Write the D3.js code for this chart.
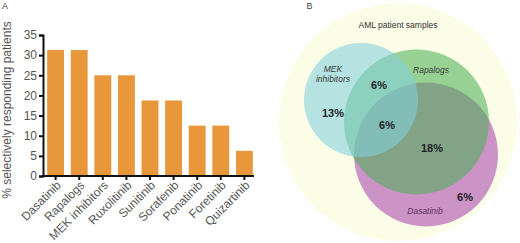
<!DOCTYPE html>
<html>
<head>
<meta charset="utf-8">
<script src="https://cdn.jsdelivr.net/npm/d3@7"></script>
<style>
  body { margin: 0; background: #fff; }
  svg { display: block; font-family: "Liberation Sans", Arial, sans-serif; }
  .axis path, .axis line { stroke: #111; stroke-width: 2px; }
  .axis text { fill: #555; font-size: 12px; }
</style>
</head>
<body>
<div id="chart"></div>
<script>
// panel A data
const drugs = ["Dasatinib", "Rapalogs", "MEK inhibitors", "Ruxolitinib", "Sunitinib",
               "Sorafenib", "Ponatinib", "Foretinib", "Quizartinib"];
const responding = [31.25, 31.25, 25, 25, 18.75, 18.75, 12.5, 12.5, 6.25];
const yTicks = [0, 5, 10, 15, 20, 25, 30, 35];

// panel B data
const vennSets = ["MEK inhibitors", "Rapalogs", "Dasatinib"];
const vennRegions = ["MEK only", "MEK + Rapalogs", "all three", "Rapalogs + Dasatinib", "Dasatinib only"];
const vennPercents = ["13%", "6%", "6%", "18%", "6%"];

const width = 520, height = 243;

const svg = d3.select("#chart").append("svg")
    .attr("width", width)
    .attr("height", height);

// ---------- A: bar chart ----------
const x = d3.scaleBand().domain(drugs).range([46, 254]).paddingInner(0.285).paddingOuter(0.05);
const y = d3.scaleLinear().domain([0, 35]).range([176, 35]);

svg.append("text").attr("x", 2).attr("y", 9)
    .attr("font-size", 9).attr("fill", "#444").text("A");

svg.append("g").selectAll("rect")
    .data(drugs)
    .join("rect")
    .attr("x", d => x(d))
    .attr("y", (d, i) => y(responding[i]))
    .attr("width", x.bandwidth())
    .attr("height", (d, i) => y(0) - y(responding[i]))
    .attr("fill", "#e8973a");

svg.append("g")
    .attr("class", "axis")
    .attr("transform", "translate(43,0)")
    .call(d3.axisLeft(y).tickValues(yTicks).tickSize(4).tickPadding(2));

const xAxis = svg.append("g")
    .attr("class", "axis")
    .attr("transform", "translate(0,176)")
    .call(d3.axisBottom(x).tickSize(4).tickSizeOuter(0));
xAxis.select(".domain").attr("d", "M42,0H254");
// rotated labels, right end just below each tick
xAxis.selectAll("text")
    .attr("x", 0).attr("y", 0).attr("dy", 0)
    .attr("text-anchor", "end")
    .attr("transform", "translate(6,10) rotate(-45)");

svg.append("text")
    .attr("transform", "translate(11,110) rotate(-90)")
    .attr("text-anchor", "middle")
    .attr("font-size", 12)
    .attr("fill", "#555")
    .text("% selectively responding patients");

// ---------- B: Venn diagram ----------
svg.append("text").attr("x", 306.5).attr("y", 9)
    .attr("font-size", 9).attr("fill", "#444").text("B");

const venn = svg.append("g");
venn.append("circle").attr("cx", 398).attr("cy", 122).attr("r", 119).attr("fill", "#fbfde6");

svg.append("text").attr("x", 398).attr("y", 28)
    .attr("text-anchor", "middle").attr("font-size", 8.5).attr("fill", "#333")
    .text("AML patient samples");

const circles = [
    {cx: 426, cy: 154.5, r: 72, fill: "#cc94c6", op: 1},
    {cx: 416.5, cy: 122, r: 72.5, fill: "#45ae50", op: 0.55},
    {cx: 361, cy: 100, r: 57, fill: "#84d0dc", op: 0.58}
];
venn.selectAll(".set")
    .data(circles)
    .join("circle")
    .attr("class", "set")
    .attr("cx", d => d.cx).attr("cy", d => d.cy).attr("r", d => d.r)
    .attr("fill", d => d.fill).attr("fill-opacity", d => d.op);

// set names
const setLabels = [
    {lines: ["MEK", "inhibitors"], x: 333, y: 72},
    {lines: ["Rapalogs"], x: 431, y: 73},
    {lines: ["Dasatinib"], x: 425, y: 214}
];
setLabels.forEach((s, i) => {
    const t = svg.append("text")
        .attr("x", s.x).attr("y", s.y)
        .attr("text-anchor", "middle")
        .attr("font-size", 8.5).attr("font-style", "italic")
        .attr("fill", i === 2 ? "#5a2f5a" : "#3a3a3a");
    s.lines.forEach((l, j) => t.append("tspan").attr("x", s.x).attr("dy", j ? 10 : 0).text(l));
});

// region percentages
const regionPos = [[333, 117], [379, 89], [387, 129], [432, 152], [465, 201]];
svg.append("g").selectAll("text")
    .data(vennRegions)
    .join("text")
    .attr("x", (d, i) => regionPos[i][0])
    .attr("y", (d, i) => regionPos[i][1])
    .attr("text-anchor", "middle")
    .attr("font-size", 11).attr("font-weight", "bold")
    .attr("fill", "#1e1e2a")
    .text((d, i) => vennPercents[i]);
</script>
</body>
</html>
